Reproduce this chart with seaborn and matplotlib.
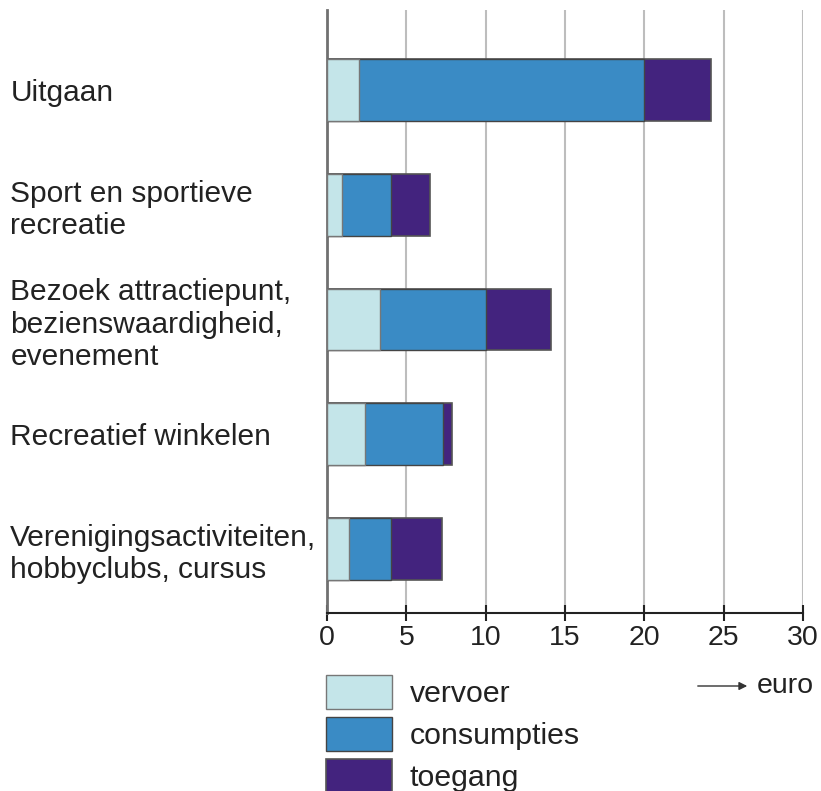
import matplotlib
matplotlib.use('Agg')
import matplotlib.pyplot as plt
import seaborn as sns
import pandas as pd
import numpy as np

# data (euro per activity)
categories = ['Uitgaan',
              'Sport en sportieve\nrecreatie',
              'Bezoek attractiepunt,\nbezienswaardigheid,\nevenement',
              'Recreatief winkelen',
              'Verenigingsactiviteiten,\nhobbyclubs, cursus']
vervoer = [2.0, 0.95, 3.35, 2.4, 1.4]
consumpties = [18.0, 3.1, 6.65, 4.9, 2.65]
toegang = [4.2, 2.45, 4.1, 0.6, 3.2]

colors = {'vervoer': '#c4e5e9', 'consumpties': '#3a8bc5', 'toegang': '#43237e'}

sns.set_theme(style='white')
plt.rcParams['font.family'] = ['Liberation Sans', 'DejaVu Sans']
FS = 20.5
FS_LAB = 21.5

df = pd.DataFrame({'cat': categories, 'vervoer': vervoer,
                   'consumpties': consumpties, 'toegang': toegang})
df['c1'] = df['vervoer']
df['c2'] = df['c1'] + df['consumpties']
df['c3'] = df['c2'] + df['toegang']

fig = plt.figure(figsize=(8.21, 7.91), dpi=100)
ax = fig.add_axes([327/821, 1-613/791, (803-327)/821, (613-10)/791])

for x in range(5, 31, 5):
    ax.axvline(x, color='#bdbdbd', lw=1.5, zorder=0)

# stacked: draw totals first, then cumulative parts on top
sns.barplot(data=df, y='cat', x='c3', color=colors['toegang'], orient='h', saturation=1,
            width=0.54, edgecolor='#555555', linewidth=1.2, label='toegang', ax=ax, zorder=2)
sns.barplot(data=df, y='cat', x='c2', color=colors['consumpties'], orient='h', saturation=1,
            width=0.54, edgecolor='#444444', linewidth=1.0, label='consumpties', ax=ax, zorder=3)
sns.barplot(data=df, y='cat', x='c1', color=colors['vervoer'], orient='h', saturation=1,
            width=0.54, edgecolor='#777777', linewidth=1.0, label='vervoer', ax=ax, zorder=4)

handles, labels = ax.get_legend_handles_labels()
if ax.get_legend() is not None:
    ax.get_legend().remove()

ax.set_xlim(0, 30)
ax.set_ylim(4.56, -0.70)
ax.set_xticks(range(0, 31, 5))
ax.set_xlabel('')
ax.set_ylabel('')

for s in ['top', 'right']:
    ax.spines[s].set_visible(False)
ax.spines['left'].set_color('#707070')
ax.spines['left'].set_linewidth(2)
ax.spines['bottom'].set_color('#222222')
ax.spines['bottom'].set_linewidth(1.5)

ax.tick_params(axis='x', direction='inout', length=11, width=1.5, color='#222222',
               labelsize=FS, pad=3, bottom=True, labelcolor='#222222')
ax.tick_params(axis='y', length=0, labelsize=FS_LAB, pad=228, labelcolor='#222222')
for lab in ax.get_yticklabels():
    lab.set_horizontalalignment('left')
    lab.set_linespacing(1.2)

order = [labels.index(n) for n in ['vervoer', 'consumpties', 'toegang']]
fig.legend([handles[i] for i in order], [labels[i] for i in order],
           loc='upper left', bbox_to_anchor=(326/821, 1-675/791), frameon=False,
           fontsize=21.8, handlelength=2.18, handleheight=1.35, labelspacing=0.26,
           handletextpad=0.59, borderpad=0, borderaxespad=0, labelcolor='#222222')

ax.annotate('', xy=(750/821, 1-686/791), xytext=(695/821, 1-686/791),
            xycoords='figure fraction',
            arrowprops=dict(arrowstyle='-|>', color='#333333', lw=1, mutation_scale=12))
fig.text(757/821, 1-686/791, 'euro', fontsize=FS, va='center', ha='left', color='#222222')

fig.savefig('out.png', dpi=100)
